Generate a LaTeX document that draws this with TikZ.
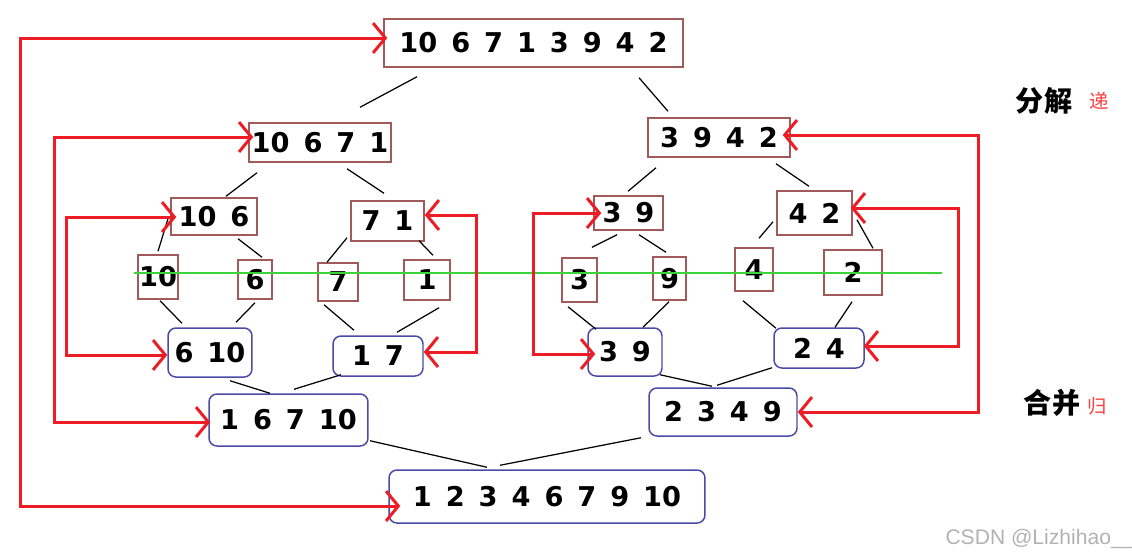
\documentclass[tikz,border=0pt]{standalone}
\usepackage{fontspec}
\setmainfont{DejaVu Sans}[WordSpace=1.47]
\newfontfamily\cjk{Noto Sans CJK SC}
\newfontfamily\wmfont{Liberation Sans}
\usetikzlibrary{calc,arrows.meta}
\definecolor{splitred}{HTML}{A05A5A}
\definecolor{mergeblue}{HTML}{4A4AA8}
\definecolor{backred}{HTML}{EE1C24}
\definecolor{labelred}{HTML}{FF4040}
\definecolor{cutgreen}{HTML}{3CD23C}
\tikzset{
	split/.style={draw=splitred, line width=0.85pt, inner sep=0pt, font=\bfseries\fontsize{15.5}{18}\selectfont},
	merge/.style={split, draw=mergeblue, rounded corners=4.5pt},
	tree/.style={line width=0.7pt},
	back/.style={draw=backred, line width=1.7pt, <->},
	>={Straight Barb[length=7pt,width=17pt]}
}

\begin{document}
\begin{tikzpicture}[x=0.02cm, y=-0.02cm]
		%%%%% START %%%%%
		\useasboundingbox (0,0) rectangle (1132,559);
		
		% split
		\node[split, minimum width=5.98cm, minimum height=0.96cm] (all) at (533.5,43) {10 6 7 1 3 9 4 2};
		\node[split, minimum width=2.84cm, minimum height=0.78cm] (l) at (320,142.5) {10 6 7 1};
		\node[split, minimum width=2.84cm, minimum height=0.78cm] (r) at (719,137.5) {3 9 4 2};
		\node[split, minimum width=1.72cm, minimum height=0.74cm] (ll) at (214,216.5) {10 6};
		\node[split, minimum width=1.46cm, minimum height=0.80cm] (lr) at (387.5,221) {7 1};
		\node[split, minimum width=1.38cm, minimum height=0.68cm] (rl) at (628.5,213) {3 9};
		\node[split, minimum width=1.50cm, minimum height=0.88cm] (rr) at (814.5,213) {4 2};
		
		\node[split, minimum width=0.80cm, minimum height=0.88cm] (a10) at (158,277) {10};
		\node[split, minimum width=0.68cm, minimum height=0.78cm] (a6) at (255,279.5) {6};
		\node[split, minimum width=0.80cm, minimum height=0.76cm] (a7) at (338,282) {7};
		\node[split, minimum width=0.92cm, minimum height=0.80cm] (a1) at (427,280) {1};
		\node[split, minimum width=0.70cm, minimum height=0.88cm] (a3) at (579.5,280) {3};
		\node[split, minimum width=0.66cm, minimum height=0.86cm] (a9) at (669.5,278.5) {9};
		\node[split, minimum width=0.76cm, minimum height=0.86cm] (a4) at (754,269.5) {4};
		\node[split, minimum width=1.16cm, minimum height=0.90cm] (a2) at (853,272.5) {2};
		
		% merge
		\node[merge, minimum width=1.68cm, minimum height=0.98cm] (m610) at (210,352.5) {6 10};
		\node[merge, minimum width=1.80cm, minimum height=0.80cm] (m17) at (378,356) {1 7};
		\node[merge, minimum width=1.48cm, minimum height=0.96cm] (m39) at (625,352) {3 9};
		\node[merge, minimum width=1.80cm, minimum height=0.80cm] (m24) at (819,348) {2 4};
		\node[merge, minimum width=3.18cm, minimum height=1.04cm] (m16710) at (288.5,420) {1 6 7 10};
		\node[merge, minimum width=2.96cm, minimum height=0.96cm] (m2349) at (723,412) {2 3 4 9};
		\node[merge, minimum width=6.32cm, minimum height=1.06cm] (fin) at (547,496.5) {1 2 3 4 6 7 9 10};
		
		% tree lines
		\draw[tree] ($(all.south)+(-116.5,9)$) -- ($(l.north)+(40,-15)$);
		\draw[tree] ($(all.south)+(105.5,10)$) -- ($(r.north)+(-51,-6)$);
		\draw[tree] ($(l.south)+(-63,10)$) -- ($(ll.north)+(12,-1)$);
		\draw[tree] ($(l.south)+(27,6)$) -- ($(lr.north)+(-3.5,-7)$);
		\draw[tree] ($(r.south)+(-63,10)$) -- ($(rl.north)+(-0.5,-4)$);
		\draw[tree] ($(r.south)+(57,6)$) -- ($(rr.north)+(-5.5,-4)$);
		\draw[tree] ($(ll.south)+(-46,-17)$) -- ($(a10.north)+(0,-3)$);
		\draw[tree] ($(ll.south)+(24,3)$) -- ($(a6.north)+(7,-2)$);
		\draw[tree] ($(lr.south)+(-40.5,-4)$) -- ($(a7.north)+(-11,0)$);
		\draw[tree] ($(lr.south)+(31.5,-1)$) -- ($(a1.north)+(6,-4)$);
		\draw[tree] ($(rl.south)+(-11.5,4)$) -- ($(a3.north)+(12.5,-10)$);
		\draw[tree] ($(rl.south)+(10.5,4)$) -- ($(a9.north)+(-3.5,-4)$);
		\draw[tree] ($(rr.south)+(-41.5,-14)$) -- ($(a4.north)+(5,-9)$);
		\draw[tree] ($(rr.south)+(42.5,-16)$) -- ($(a2.north)+(20,-1)$);
		
		\draw[tree] ($(a10.south)+(2,1)$) -- ($(m610.north)+(-28,-4)$);
		\draw[tree] ($(a6.south)+(0,3)$) -- ($(m610.north)+(26,-5)$);
		\draw[tree] ($(a7.south)+(-14,3)$) -- ($(m17.north)+(-24,-5)$);
		\draw[tree] ($(a1.south)+(12,7)$) -- ($(m17.north)+(19,-3)$);
		\draw[tree] ($(a3.south)+(-11.5,4)$) -- ($(m39.north)+(-29,2)$);
		\draw[tree] ($(a9.south)+(-0.5,1)$) -- ($(m39.north)+(18,0)$);
		\draw[tree] ($(a4.south)+(-11,9)$) -- ($(m24.north)+(-43,1)$);
		\draw[tree] ($(a2.south)+(-1,6)$) -- ($(m24.north)+(16,0)$);
		\draw[tree] ($(m610.south)+(20,3)$) -- ($(m16710.north)+(-18.5,0)$);
		\draw[tree] ($(m17.south)+(-37,-2)$) -- ($(m16710.north)+(5.5,-4)$);
		\draw[tree] ($(m39.south)+(35,-2)$) -- ($(m2349.north)+(-11,-1)$);
		\draw[tree] ($(m24.south)+(-47,-1)$) -- ($(m2349.north)+(-6,-2)$);
		\draw[tree] ($(m16710.south)+(81.5,-6)$) -- ($(fin.north)+(-60,-2)$);
		\draw[tree] ($(m2349.south)+(-82,1)$) -- ($(fin.north)+(-47,-4)$);
		
		% cut line
		\draw[cutgreen, line width=0.9pt] (134,273) -- (942,273);
		
		% back arrows
		\draw[back] ($(all.west)+(4,-5)$) -- ++(-367,0) |- ($(fin.west)+(12,9.5)$);
		\draw[back] ($(l.west)+(5,-5.5)$) -- ++(-199,0) |- ($(m16710.west)+(2,2)$);
		\draw[back] ($(ll.west)+(6,0.5)$) -- ++(-110,0) |- ($(m610.west)+(0,2.5)$);
		\draw[back] ($(lr.east)+(0,-6)$) -- ++(52,0) |- ($(m17.east)+(0,-4)$);
		\draw[back] ($(rl.west)+(8,0)$) -- ++(-68,0) |- ($(m39.west)+(8,2)$);
		\draw[back] ($(rr.east)+(-2,-5)$) -- ++(108,0) |- ($(m24.east)+(-1,-2)$);
		\draw[back] ($(r.east)+(-8,-2.5)$) -- ++(196,0) |- (m2349.east);
		
		% labels
		\node[font=\cjk\bfseries\fontsize{16}{18}\selectfont] (fenjie) at (1044,101) {分解};
		\node[font=\cjk\fontsize{11}{13}\selectfont, text=labelred] (di) at (1099,101) {递};
		\node[font=\cjk\bfseries\fontsize{16}{18}\selectfont] (hebing) at (1052,403) {合并};
		\node[font=\cjk\fontsize{11}{13}\selectfont, text=labelred] (gui) at (1097,406) {归};
		\node[font=\wmfont\fontsize{12}{14}\selectfont, text=black!30] (csdn) at (1040,539) {CSDN @Lizhihao\_\_};
		%%%%% END %%%%%
\end{tikzpicture}
\end{document}
